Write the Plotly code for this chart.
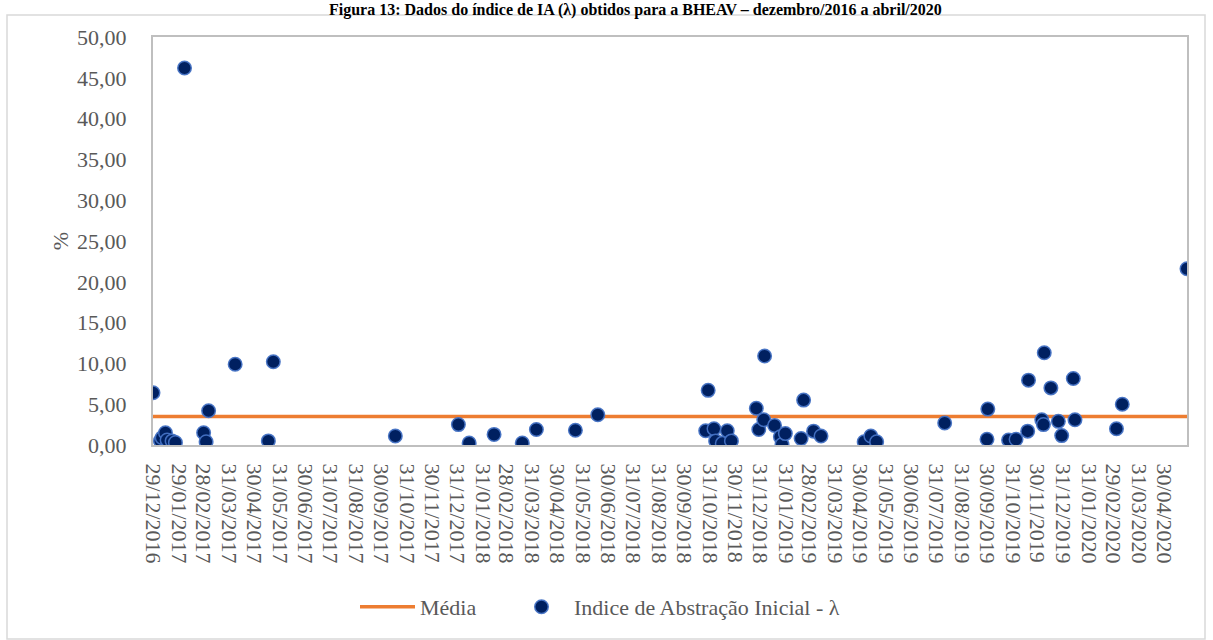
import plotly.graph_objects as go
from datetime import datetime

# Datas de cada evento e respectivo índice de abstração inicial (%)
datas = [
    "2016-12-29", "2017-01-07", "2017-01-09", "2017-01-13", "2017-01-15",
    "2017-01-21", "2017-01-25", "2017-02-05", "2017-02-28", "2017-03-03",
    "2017-03-06", "2017-04-07", "2017-05-17", "2017-05-23", "2017-10-17",
    "2018-01-01", "2018-01-14", "2018-02-13", "2018-03-19", "2018-04-05",
    "2018-05-22", "2018-06-18", "2018-10-26", "2018-10-29", "2018-11-05",
    "2018-11-07", "2018-11-15", "2018-11-21", "2018-11-26", "2018-12-26",
    "2018-12-29", "2019-01-04", "2019-01-05", "2019-01-17", "2019-01-24",
    "2019-01-26", "2019-01-30", "2019-02-18", "2019-02-21", "2019-03-05",
    "2019-03-14", "2019-05-05", "2019-05-13", "2019-05-20", "2019-08-10",
    "2019-09-30", "2019-10-01", "2019-10-26", "2019-11-04", "2019-11-18",
    "2019-11-19", "2019-12-05", "2019-12-07", "2019-12-08", "2019-12-16",
    "2019-12-25", "2019-12-29", "2020-01-12", "2020-01-14", "2020-03-04",
    "2020-03-11", "2020-05-28",
]
indice_lambda = [
    6.40, 0.50, 0.90, 1.50, 0.60,
    0.50, 0.30, 46.20, 1.50, 0.40,
    4.20, 9.90, 0.50, 10.20, 1.10,
    2.50, 0.25, 1.30, 0.25, 1.90,
    1.80, 3.70, 1.75, 6.70, 2.00,
    0.50, 0.20, 1.75, 0.50, 4.50,
    1.90, 3.10, 10.90, 2.40, 1.00,
    0.05, 1.40, 0.80, 5.50, 1.70,
    1.10, 0.40, 1.10, 0.40, 2.70,
    0.70, 4.40, 0.60, 0.70, 1.70,
    7.95, 3.10, 2.50, 11.30, 7.00,
    2.90, 1.15, 8.15, 3.10, 2.00,
    5.00, 21.60,
]

# Média do índice no período
media = 3.5

# Rótulos do eixo das datas
rotulos_datas = [
    "29/12/2016", "29/01/2017", "28/02/2017", "31/03/2017", "30/04/2017",
    "31/05/2017", "30/06/2017", "31/07/2017", "31/08/2017", "30/09/2017",
    "31/10/2017", "30/11/2017", "31/12/2017", "31/01/2018", "28/02/2018",
    "31/03/2018", "30/04/2018", "31/05/2018", "30/06/2018", "31/07/2018",
    "31/08/2018", "30/09/2018", "31/10/2018", "30/11/2018", "31/12/2018",
    "31/01/2019", "28/02/2019", "31/03/2019", "30/04/2019", "31/05/2019",
    "30/06/2019", "31/07/2019", "31/08/2019", "30/09/2019", "31/10/2019",
    "30/11/2019", "31/12/2019", "31/01/2020", "29/02/2020", "31/03/2020",
    "30/04/2020",
]
rotulos_y = [0, 5, 10, 15, 20, 25, 30, 35, 40, 45, 50]

x_datas = [datetime.strptime(d, "%Y-%m-%d") for d in datas]
x_ticks = [datetime.strptime(r, "%d/%m/%Y") for r in rotulos_datas]
x_ini, x_fim = min(x_datas), max(x_datas)

FONTE = "Liberation Serif, Times New Roman, serif"
CINZA = "#595959"

# Dimensões da área do gráfico (pixels)
L, R, T, B = 153, 1187, 37, 445
W, H = 1213, 640


def px_x(p):
    return (p - L) / (R - L)


def px_y(p):
    return (B - p) / (B - T)


fig = go.Figure()

fig.add_trace(go.Scatter(
    x=[x_ini, x_fim], y=[media, media],
    mode="lines", name="Média",
    line=dict(color="#ED7D31", width=3.5),
    legend="legend",
))

fig.add_trace(go.Scatter(
    x=x_datas, y=indice_lambda,
    mode="markers", name="Indice de Abstração Inicial - λ",
    marker=dict(size=13.5, color="#002060",
                line=dict(color="rgba(68,114,196,0.95)", width=1.5)),
    legend="legend2",
))

legenda_base = dict(
    orientation="h",
    xanchor="left",
    y=px_y(607), yanchor="middle",
    font=dict(family=FONTE, size=22, color=CINZA),
    itemwidth=55,
    bgcolor="rgba(0,0,0,0)",
)

fig.update_layout(
    width=W, height=H,
    margin=dict(l=L, r=W - R, t=T, b=H - B),
    paper_bgcolor="white", plot_bgcolor="white",
    separators=",.",
    font=dict(family=FONTE, size=22, color=CINZA),
    showlegend=True,
    legend=dict(legenda_base, x=px_x(355)),
    legend2=dict(legenda_base, x=px_x(509)),
    xaxis=dict(
        type="date",
        range=[x_ini, x_fim],
        tickmode="array",
        tickvals=x_ticks,
        ticktext=rotulos_datas,
        tickangle=90,
        ticks="outside", ticklen=12, tickcolor="rgba(0,0,0,0)",
        showgrid=False, zeroline=False,
        showline=True, linecolor="#BFBFBF", linewidth=2, mirror=True,
        tickfont=dict(family=FONTE, size=22, color=CINZA),
    ),
    yaxis=dict(
        range=[0, 50],
        tickmode="array",
        tickvals=rotulos_y,
        tickformat=".2f",
        ticks="outside", ticklen=20, tickcolor="rgba(0,0,0,0)",
        showgrid=False, zeroline=False,
        showline=True, linecolor="#BFBFBF", linewidth=2, mirror=True,
        tickfont=dict(family=FONTE, size=22, color=CINZA),
        title=dict(text="%", standoff=2,
                   font=dict(family=FONTE, size=22, color=CINZA)),
    ),
    shapes=[dict(
        type="rect", xref="paper", yref="paper",
        x0=px_x(7), x1=px_x(1205), y0=px_y(639), y1=px_y(15),
        line=dict(color="#D9D9D9", width=1.5), fillcolor="rgba(0,0,0,0)",
        layer="below",
    )],
    annotations=[dict(
        text="<b>Figura 13: Dados do índice de IA (λ) obtidos para a BHEAV – dezembro/2016 a abril/2020</b>",
        xref="paper", yref="paper",
        x=px_x(635), y=px_y(0), xanchor="center", yanchor="top",
        showarrow=False, borderpad=0,
        font=dict(family=FONTE, size=16, color="black"),
    )],
)

fig.write_html("out.html")
